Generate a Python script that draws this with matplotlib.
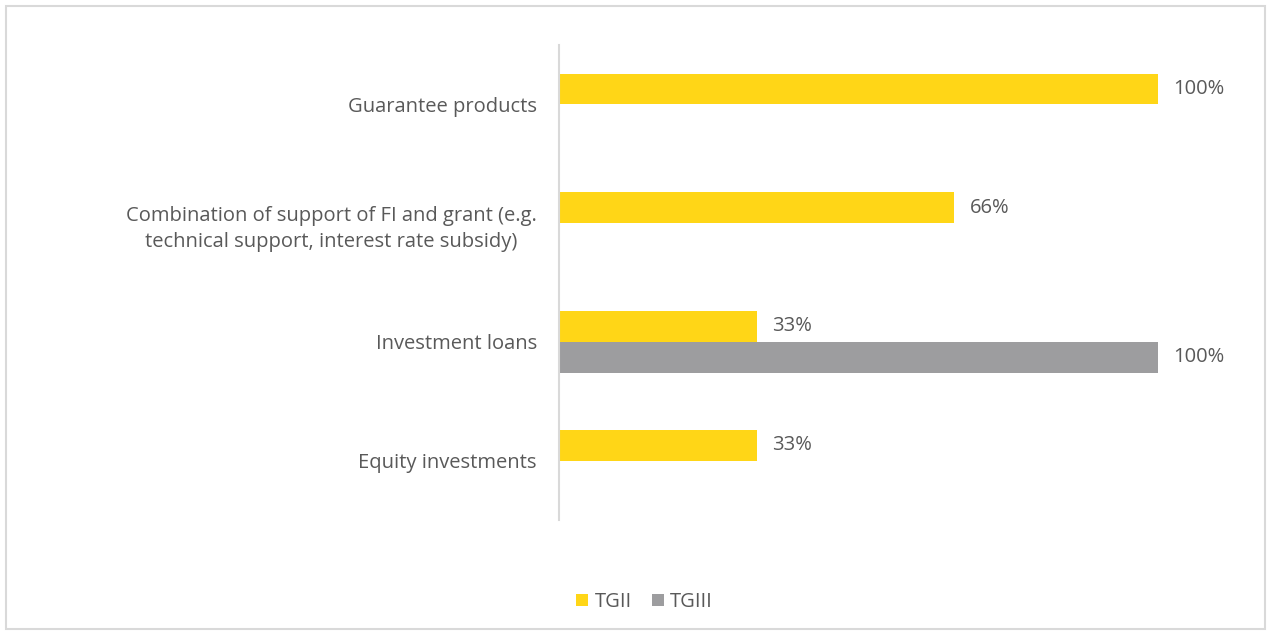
import matplotlib.pyplot as plt
import numpy as np
from matplotlib.patches import Rectangle

categories = ["Guarantee products",
              "Combination of support of FI and grant (e.g.\ntechnical support, interest rate subsidy)",
              "Investment loans",
              "Equity investments"]
tgii = [100, 66, 33, 33]
tgiii = [0, 0, 100, 0]
series_names = ["TGII", "TGIII"]

yellow = "#FFD617"
grey = "#9D9D9F"
txt = "#595959"

plt.rcParams['font.family'] = ['Open Sans', 'DejaVu Sans']

fig = plt.figure(figsize=(12.71, 6.35), dpi=100)
fig.patches.append(Rectangle((6 / 1271, 1 - 629 / 635), 1259 / 1271, 623 / 635,
                             transform=fig.transFigure, fill=False,
                             edgecolor="#D9D9D9", linewidth=1.5))

ax = fig.add_axes([559 / 1271, 1 - 520 / 635, (1158 - 559) / 1271, (520 - 45) / 635])

y = np.arange(len(categories))
h = 0.26
b1 = ax.barh(y - h / 2, tgii, height=h, color=yellow, label=series_names[0])
b2 = ax.barh(y + h / 2, tgiii, height=h, color=grey, label=series_names[1])

for bars, vals in [(b1, tgii), (b2, tgiii)]:
    for bar, v in zip(bars, vals):
        if v > 0:
            ax.text(v + 2.6, bar.get_y() + bar.get_height() / 2, f"{v}%",
                    va="center", ha="left", fontsize=14.5, color=txt)

ax.set_xlim(0, 100)
ax.set_ylim(len(categories) - 0.5, -0.5)
ax.set_yticks(y)
ax.set_yticklabels(categories, fontsize=14.5, color=txt, ha="right",
                   multialignment="center", linespacing=1.45)
ax.tick_params(axis="y", length=0, pad=16)
ax.set_xticks([])
for s in ["top", "right", "bottom"]:
    ax.spines[s].set_visible(False)
ax.spines["left"].set_color("#D9D9D9")
ax.spines["left"].set_linewidth(1.5)

fig.legend(handles=[b1, b2], labels=series_names, loc="center",
           bbox_to_anchor=(0.507, 1 - 602 / 635), ncol=2, frameon=False,
           fontsize=14.5, labelcolor=txt, handlelength=0.6, handleheight=0.6,
           handletextpad=0.3, columnspacing=1.0)

fig.savefig("out.png", dpi=100)
